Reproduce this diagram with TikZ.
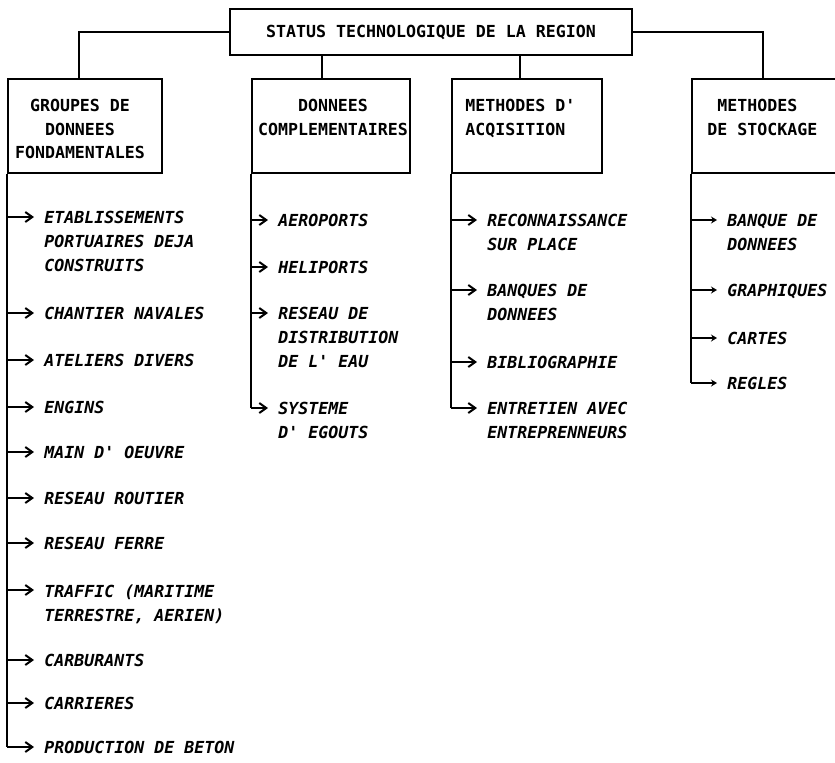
\documentclass[tikz,border=0pt]{standalone}
\usepackage{fontspec}
\newfontfamily\plotfont{DejaVu Sans Mono}
\usetikzlibrary{arrows.meta}

\begin{document}
\begin{tikzpicture}[x=0.5pt,y=-0.5pt,
  font=\plotfont\bfseries\fontsize{8.3}{11.75}\selectfont,
  box/.style={draw, line width=1pt, inner sep=0pt, minimum height=47pt},
  boxtext/.style={inner sep=0pt},
  item/.style={inner sep=0pt, anchor=north west, align=left, xshift=5pt, yshift=3pt,
    font=\plotfont\bfseries\itshape\fontsize{8.3}{12}\selectfont},
  link/.style={draw, line width=1pt},
  arrow/.style={draw, line width=1pt, -{Straight Barb[length=3.5pt,width=5pt]}},
  smallarrow/.style={draw, line width=1pt, -{Stealth[length=3pt,width=3.5pt]}}]
\useasboundingbox (0,0) rectangle (835,762);
\clip (0,0) rectangle (835,762);

% title and the four groups
\node[box, minimum width=201pt, minimum height=23pt] (0) at (431,32) {STATUS TECHNOLOGIQUE DE LA REGION};
\node[box, minimum width=77pt] (1) at (85,126) {};
\node[box, minimum width=79pt] (2) at (331,126) {};
\node[box, minimum width=75pt] (3) at (527,126) {};
\node[box, minimum width=78pt] (4) at (770,126) {};
\node[boxtext, anchor=north, align=center] (1t) at (80,99) {GROUPES DE\\DONNEES\\FONDAMENTALES};
\node[boxtext, anchor=north, align=center] (2t) at (333,99) {DONNEES\\COMPLEMENTAIRES};
\node[boxtext, anchor=north west, align=left] (3t) at (465,99) {METHODES D'\\ACQISITION};
\node[boxtext, anchor=north west, align=left] (4t) at (707,99) {~METHODES\\DE STOCKAGE};
\path[link] (0.west) -| ([xshift=-3pt]1.north);
\path[link] (0.east) -| ([xshift=-3.5pt]4.north);
\path[link] ([xshift=-4.5pt]2.north) -- ([xshift=-4.5pt]2.north |- 0.south);
\path[link] ([xshift=-3.5pt]3.north) -- ([xshift=-3.5pt]3.north |- 0.south);

% groupes de donnees fondamentales
\coordinate (1a) at (34,217);
\coordinate (1b) at (34,313);
\coordinate (1c) at (34,360);
\coordinate (1d) at (34,407);
\coordinate (1e) at (34,452);
\coordinate (1f) at (34,498);
\coordinate (1g) at (34,543);
\coordinate (1h) at (34,590);
\coordinate (1i) at (34,660);
\coordinate (1j) at (34,703);
\coordinate (1k) at (34,747);
\path[link] (1.south west) -- (1k -| 1.west);
\path[arrow] (1a -| 1.west) -- (1a);
\path[arrow] (1b -| 1.west) -- (1b);
\path[arrow] (1c -| 1.west) -- (1c);
\path[arrow] (1d -| 1.west) -- (1d);
\path[arrow] (1e -| 1.west) -- (1e);
\path[arrow] (1f -| 1.west) -- (1f);
\path[arrow] (1g -| 1.west) -- (1g);
\path[arrow] (1h -| 1.west) -- (1h);
\path[arrow] (1i -| 1.west) -- (1i);
\path[arrow] (1j -| 1.west) -- (1j);
\path[arrow] (1k -| 1.west) -- (1k);
\node[item] (1at) at (1a) {ETABLISSEMENTS\\PORTUAIRES DEJA\\CONSTRUITS};
\node[item] (1bt) at (1b) {CHANTIER NAVALES};
\node[item] (1ct) at (1c) {ATELIERS DIVERS};
\node[item] (1dt) at (1d) {ENGINS};
\node[item] (1et) at (1e) {MAIN D' OEUVRE};
\node[item] (1ft) at (1f) {RESEAU ROUTIER};
\node[item] (1gt) at (1g) {RESEAU FERRE};
\node[item] (1ht) at (1h) {TRAFFIC (MARITIME\\TERRESTRE, AERIEN)};
\node[item] (1it) at (1i) {CARBURANTS};
\node[item] (1jt) at (1j) {CARRIERES};
\node[item] (1kt) at (1k) {PRODUCTION DE BETON};

% donnees complementaires
\coordinate (2a) at (268,220);
\coordinate (2b) at (268,267);
\coordinate (2c) at (268,313);
\coordinate (2d) at (268,408);
\path[link] (2.south west) -- (2d -| 2.west);
\path[arrow] (2a -| 2.west) -- (2a);
\path[arrow] (2b -| 2.west) -- (2b);
\path[arrow] (2c -| 2.west) -- (2c);
\path[arrow] (2d -| 2.west) -- (2d);
\node[item] (2at) at (2a) {AEROPORTS};
\node[item] (2bt) at (2b) {HELIPORTS};
\node[item] (2ct) at (2c) {RESEAU DE\\DISTRIBUTION\\DE L' EAU};
\node[item] (2dt) at (2d) {SYSTEME\\D' EGOUTS};

% methodes d'acquisition
\coordinate (3a) at (477,220);
\coordinate (3b) at (477,290);
\coordinate (3c) at (477,362);
\coordinate (3d) at (477,408);
\path[link] (3.south west) -- (3d -| 3.west);
\path[arrow] (3a -| 3.west) -- (3a);
\path[arrow] (3b -| 3.west) -- (3b);
\path[arrow] (3c -| 3.west) -- (3c);
\path[arrow] (3d -| 3.west) -- (3d);
\node[item] (3at) at (3a) {RECONNAISSANCE\\SUR PLACE};
\node[item] (3bt) at (3b) {BANQUES DE\\DONNEES};
\node[item] (3ct) at (3c) {BIBLIOGRAPHIE};
\node[item] (3dt) at (3d) {ENTRETIEN AVEC\\ENTREPRENNEURS};

% methodes de stockage
\coordinate (4a) at (717,220);
\coordinate (4b) at (717,290);
\coordinate (4c) at (717,338);
\coordinate (4d) at (717,383);
\path[link] (4.south west) -- (4d -| 4.west);
\path[smallarrow] (4a -| 4.west) -- (4a);
\path[smallarrow] (4b -| 4.west) -- (4b);
\path[smallarrow] (4c -| 4.west) -- (4c);
\path[smallarrow] (4d -| 4.west) -- (4d);
\node[item] (4at) at (4a) {BANQUE DE\\DONNEES};
\node[item] (4bt) at (4b) {GRAPHIQUES};
\node[item] (4ct) at (4c) {CARTES};
\node[item] (4dt) at (4d) {REGLES};
\end{tikzpicture}
\end{document}
